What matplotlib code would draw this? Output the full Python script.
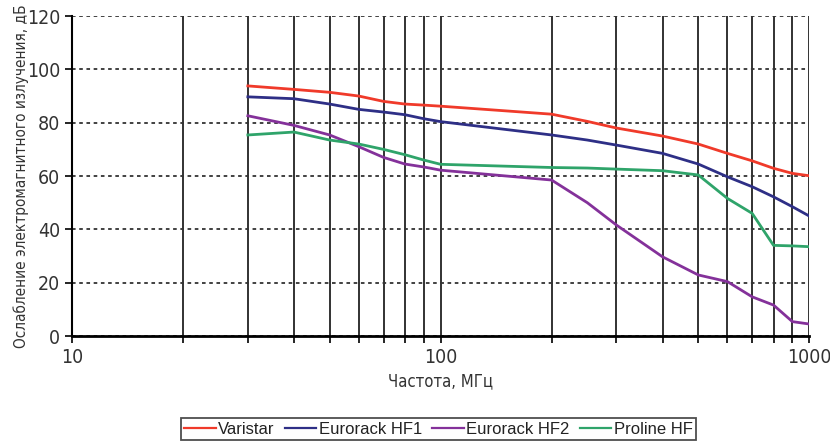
import numpy as np
import matplotlib.pyplot as plt
from matplotlib.ticker import FixedLocator, NullFormatter

# Частоты, МГц
freq = [30, 40, 50, 60, 70, 80, 90, 100, 200, 250, 300, 400, 500, 600, 700, 800, 900, 1000]

varistar = [93.8, 92.5, 91.4, 90.0, 88.0, 87.0, 86.6, 86.2, 83.2, 80.5, 78.0, 75.0, 72.0, 68.5, 65.7, 62.9, 61.0, 60.1]
eurorack_hf1 = [89.7, 89.0, 87.0, 85.0, 84.0, 83.0, 81.5, 80.4, 75.4, 73.5, 71.6, 68.5, 64.5, 59.7, 56.0, 52.2, 48.5, 45.0]
eurorack_hf2 = [82.6, 79.0, 75.4, 71.0, 67.0, 64.5, 63.4, 62.2, 58.5, 50.0, 41.6, 29.7, 22.9, 20.4, 14.7, 11.6, 5.4, 4.5]
proline_hf = [75.4, 76.5, 73.5, 72.0, 70.0, 68.0, 66.0, 64.4, 63.2, 63.0, 62.6, 62.0, 60.4, 51.6, 46.0, 34.0, 33.8, 33.5]

series = [
    ("Varistar", varistar, "#f03a2a"),
    ("Eurorack HF1", eurorack_hf1, "#2e2f86"),
    ("Eurorack HF2", eurorack_hf2, "#84319a"),
    ("Proline HF", proline_hf, "#2fa46a"),
]

plt.rcParams['font.stretch'] = 'condensed'

fig = plt.figure(figsize=(8.3, 4.46), dpi=100)
ax = fig.add_axes([0.0867, 0.2466, 0.8883, 0.7174])

# вертикальная сетка
grid_x = [20, 30, 40, 50, 60, 70, 80, 90, 100, 200, 300, 400, 500, 600, 700, 800, 900, 1000]
for gx in grid_x:
    ax.axvline(gx, color='#222222', lw=1.3, zorder=1)

for name, vals, col in series:
    ax.plot(freq, vals, color=col, lw=2, label=name, zorder=3)

ax.set_xscale('log')
ax.set_xlim(10, 1000)
ax.set_ylim(0, 120)
ax.set_yticks(range(0, 121, 20))
ax.yaxis.grid(True, linestyle=(0, (2, 2)), color='#333333', lw=1.3)
ax.xaxis.set_minor_locator(FixedLocator([20, 30, 40, 50, 60, 70, 80, 90, 200, 300, 400, 500, 600, 700, 800, 900]))
ax.xaxis.set_minor_formatter(NullFormatter())
ax.set_xticks([10, 100, 1000])
ax.set_xticklabels(['10', '100', '1000'])
ax.tick_params(axis='x', which='both', direction='out', length=5, width=1.2)
ax.tick_params(axis='y', direction='out', length=5, width=1.2)
ax.tick_params(labelsize=14, labelcolor='#333333')

for s in ['top', 'right']:
    ax.spines[s].set_visible(False)
ax.spines['left'].set_linewidth(1.5)
ax.spines['bottom'].set_linewidth(2)

ax.set_xlabel('Частота, МГц', fontsize=12, color='#333333', labelpad=4)
ax.set_ylabel('Ослабление электромагнитного излучения, дБ', fontsize=11,
              color='#333333', labelpad=2)
ax.yaxis.set_label_coords(-0.058, 0.5)

leg = fig.legend(loc='center', bbox_to_anchor=(0.528, 0.038), ncol=4, frameon=True,
                 fancybox=False, edgecolor='#222222', handlelength=1.9, handletextpad=0.15,
                 columnspacing=0.6, borderpad=0.2, borderaxespad=0,
                 prop={'family': 'Liberation Sans', 'size': 12, 'stretch': 'normal'})
leg.get_frame().set_linewidth(1.3)
for t in leg.get_texts():
    t.set_color('#222222')
for h in leg.legend_handles:
    h.set_linewidth(1.6)

fig.savefig('out.png', dpi=100)
